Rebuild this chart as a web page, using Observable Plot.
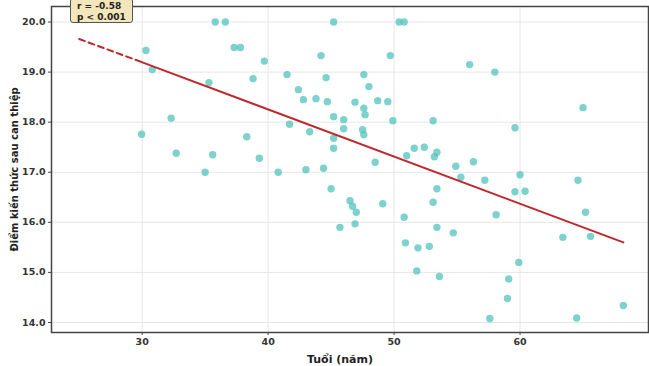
<!DOCTYPE html>
<html>
<head>
<meta charset="utf-8">
<script src="https://cdn.jsdelivr.net/npm/d3@7"></script>
<script src="https://cdn.jsdelivr.net/npm/@observablehq/plot@0.6"></script>
<style>
  body { margin: 0; background: white; }
  #wrap { position: relative; width: 649px; height: 366px; }
  #note {
    position: absolute; left: 70px; top: -2px; width: 63px; height: 25px;
    background: #f4e6bb; border: 1px solid #555; border-radius: 3px;
    font: bold 9px "DejaVu Sans", sans-serif; color: #222;
    line-height: 11px; padding: 2px 0 0 6px; box-sizing: border-box;
  }
</style>
</head>
<body>
<div id="wrap"><div id="note">r = -0.58<br>p &lt; 0.001</div></div>
<script>
const ages = [35.8,36.6,30.3,37.3,37.8,39.7,30.8,38.8,41.5,35.3,42.4,32.3,29.96,38.3,41.7,32.7,35.6,39.3,35.0,40.8,
  45.2,50.4,50.8,44.2,49.7,44.6,47.6,48.0,42.8,43.8,44.7,46.9,47.6,48.7,49.5,47.7,45.2,46.0,49.9,53.1,
  43.3,46.0,47.5,47.6,45.2,45.2,51.6,52.4,53.4,53.2,51.0,48.5,43.0,44.4,54.9,56.0,58.0,65.0,59.6,56.3,
  45.0,46.5,46.7,47.0,49.1,45.7,46.9,50.8,53.4,53.1,53.4,54.7,50.9,51.9,52.8,51.8,53.6,55.3,57.2,60.0,
  59.6,60.4,64.6,58.1,65.2,63.4,65.6,59.9,59.1,59.0,57.6,64.5,68.2];
const scores = [20.0,20.0,19.43,19.49,19.49,19.22,19.05,18.87,18.95,18.79,18.65,18.08,17.76,17.71,17.96,17.38,17.35,17.28,17.0,17.0,
  20.0,20.0,20.0,19.33,19.33,18.89,18.95,18.71,18.45,18.47,18.41,18.40,18.28,18.43,18.41,18.15,18.11,18.05,18.03,18.03,
  17.81,17.87,17.85,17.75,17.68,17.48,17.48,17.50,17.40,17.31,17.33,17.20,17.05,17.08,17.12,19.15,19.0,18.29,17.89,17.21,
  16.67,16.43,16.32,16.20,16.37,15.90,15.97,16.10,16.67,16.40,15.90,15.79,15.59,15.49,15.52,15.03,14.92,16.90,16.84,16.95,
  16.61,16.62,16.84,16.15,16.20,15.70,15.72,15.20,14.87,14.48,14.08,14.09,14.34];
// regression line: dashed extension then solid fit
const dashAge = [25, 29.96];
const dashScore = [19.66, 19.2];
const fitAge = [29.96, 68.2];
const fitScore = [19.2, 15.6];
const xTicks = [30, 40, 50, 60];
const yTicks = [14, 15, 16, 17, 18, 19, 20];
const xLabel = "Tuổi (năm)";
const yLabel = "Điểm kiến thức sau can thiệp";

const pts = ages.map((a, i) => ({age: a, score: scores[i]}));
const dash = dashAge.map((a, i) => ({age: a, score: dashScore[i]}));
const fit = fitAge.map((a, i) => ({age: a, score: fitScore[i]}));

const chart = Plot.plot({
  width: 649, height: 366,
  marginLeft: 51, marginRight: 1, marginTop: 6, marginBottom: 34,
  style: {fontFamily: "DejaVu Sans", fontSize: "9.5px", fontWeight: "bold", color: "#333", background: "white", overflow: "visible"},
  x: {domain: [22.8, 70.2]},
  y: {domain: [13.8, 20.31]},
  marks: [
    Plot.gridX(xTicks, {stroke: "#e6e6e6", strokeOpacity: 1}),
    Plot.gridY(yTicks, {stroke: "#e6e6e6", strokeOpacity: 1}),
    Plot.dot(pts, {x: "age", y: "score", r: 3.7, fill: "#52c3bc", fillOpacity: 0.75}),
    Plot.line(dash, {x: "age", y: "score", stroke: "#c0272d", strokeWidth: 2, strokeDasharray: "6,4"}),
    Plot.line(fit, {x: "age", y: "score", stroke: "#c0272d", strokeWidth: 2}),
    Plot.frame({stroke: "#444", strokeWidth: 1.5}),
    Plot.axisX(xTicks, {tickSize: 3, tickPadding: 3, label: null, stroke: "#444", fill: "#333"}),
    Plot.axisY(yTicks, {tickSize: 3, tickPadding: 3, label: null, stroke: "#444", fill: "#333"}),
    Plot.text([xLabel], {frameAnchor: "bottom", textAnchor: "middle", lineAnchor: "middle", dy: 27, dx: -10, fontSize: 11, fontWeight: "bold", fill: "#222", text: d => d}),
    Plot.text([yLabel], {frameAnchor: "left", textAnchor: "middle", lineAnchor: "middle", dx: -37, rotate: -90, fontSize: 10, fontWeight: "bold", fill: "#222", text: d => d})
  ]
});
document.getElementById("wrap").prepend(chart);
</script>
</body>
</html>
